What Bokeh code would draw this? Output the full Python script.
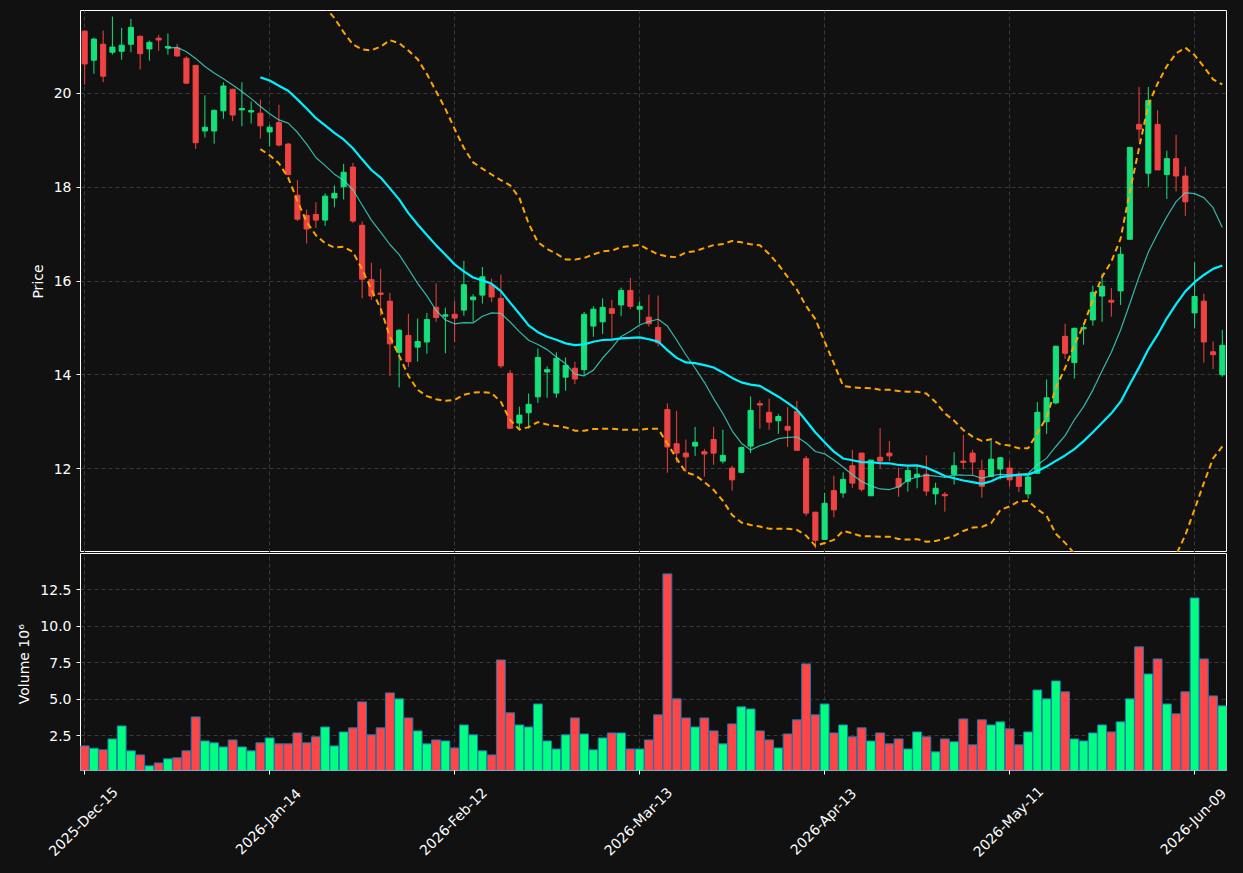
import math
import pandas as pd
from bokeh.plotting import figure
from bokeh.layouts import column
from bokeh.models import ColumnDataSource, FixedTicker, NumeralTickFormatter, Range1d
from bokeh.core.properties import value
from bokeh.embed import file_html
from bokeh.resources import INLINE

# ---------------- data ----------------
tick_idx = [0, 20, 40, 60, 80, 100, 120]
tick_labels = ["2025-Dec-15", "2026-Jan-14", "2026-Feb-12", "2026-Mar-13",
               "2026-Apr-13", "2026-May-11", "2026-Jun-09"]

opens = [21.33, 20.71, 21.05, 20.88, 20.90, 21.05, 21.22, 20.95, 21.18, 20.97,
         20.97, 20.75, 20.60, 19.20, 19.20, 19.63, 20.09, 19.65, 19.61, 19.58,
         19.18, 19.38, 18.92, 17.83, 17.40, 17.42, 17.30, 17.77, 18.01, 18.43,
         17.19, 16.03, 15.74, 15.57, 14.48, 14.84, 14.59, 14.70, 15.44, 15.26,
         15.29, 15.38, 15.60, 15.70, 15.92, 15.63, 14.03, 12.97, 13.19, 13.53,
         14.06, 13.61, 13.95, 14.14, 14.11, 15.04, 15.13, 15.41, 15.49, 15.80,
         15.40, 15.23, 15.01, 13.26, 12.53, 12.33, 12.48, 12.36, 12.62, 12.16,
         12.01, 11.92, 12.48, 13.38, 13.20, 13.02, 12.90, 13.22, 12.21, 11.07,
         10.49, 11.53, 11.48, 12.06, 12.33, 11.42, 12.24, 12.33, 11.79, 11.73,
         11.82, 11.88, 11.46, 11.45, 11.88, 12.16, 12.33, 11.96, 11.83, 11.99,
         12.01, 11.88, 11.46, 11.90, 13.00, 13.40, 14.82, 14.26, 14.98, 15.17,
         15.68, 15.59, 15.79, 16.89, 19.34, 18.30, 19.34, 18.27, 18.61, 18.24,
         15.32, 15.57, 14.49, 14.00]
highs = [21.35, 21.19, 21.34, 21.64, 21.40, 21.59, 21.24, 21.13, 21.25, 21.28,
         21.06, 20.79, 20.60, 19.96, 19.66, 20.24, 20.10, 20.24, 19.83, 19.87,
         19.33, 19.76, 18.95, 18.15, 17.52, 17.68, 17.87, 18.04, 18.50, 18.52,
         17.27, 16.39, 16.26, 15.75, 14.97, 15.30, 15.20, 15.32, 15.95, 15.43,
         15.58, 16.43, 15.72, 16.30, 16.05, 16.14, 14.10, 13.32, 13.60, 14.56,
         14.18, 14.48, 14.37, 14.28, 15.34, 15.46, 15.63, 15.60, 15.86, 16.07,
         15.57, 15.71, 15.69, 13.39, 13.23, 12.62, 12.89, 12.42, 12.89, 12.83,
         12.06, 12.47, 13.54, 13.45, 13.49, 13.16, 13.31, 13.44, 12.27, 11.07,
         11.48, 11.85, 11.92, 12.40, 12.34, 12.19, 12.86, 12.59, 12.02, 12.06,
         12.06, 12.28, 11.70, 11.50, 12.35, 12.72, 12.40, 12.19, 12.60, 12.25,
         12.16, 11.94, 11.85, 13.42, 13.90, 14.62, 15.09, 15.01, 15.11, 15.90,
         16.16, 15.85, 16.73, 18.86, 20.14, 20.14, 19.64, 18.78, 19.12, 18.44,
         16.40, 15.73, 14.71, 14.96]
lows = [20.19, 20.42, 20.24, 20.83, 20.72, 20.88, 20.51, 20.70, 20.91, 20.83,
        20.78, 20.20, 18.82, 19.06, 18.93, 19.46, 19.41, 19.30, 19.36, 19.04,
        18.87, 18.87, 18.26, 17.28, 16.80, 17.13, 17.18, 17.57, 17.74, 17.24,
        15.63, 15.60, 15.26, 13.98, 13.73, 14.17, 14.28, 14.45, 15.13, 14.46,
        14.70, 15.26, 15.13, 15.52, 15.55, 14.14, 12.85, 12.81, 12.85, 13.40,
        13.51, 13.51, 13.66, 13.80, 13.99, 14.81, 14.87, 14.77, 15.25, 15.40,
        15.09, 15.03, 14.61, 11.91, 12.13, 11.92, 12.27, 11.83, 12.08, 12.11,
        11.53, 11.90, 12.33, 12.85, 12.83, 12.74, 12.46, 12.39, 10.99, 10.30,
        10.48, 10.96, 11.38, 11.59, 11.51, 11.42, 12.00, 12.16, 11.40, 11.51,
        11.58, 11.42, 11.23, 11.08, 11.66, 11.99, 11.86, 11.38, 11.83, 11.77,
        11.62, 11.50, 11.36, 11.89, 12.74, 13.37, 14.34, 13.92, 14.64, 15.05,
        15.13, 15.24, 15.49, 16.89, 18.97, 18.01, 18.37, 17.75, 17.91, 17.39,
        14.99, 14.26, 14.12, 13.96]
closes = [20.63, 21.16, 20.37, 20.99, 21.03, 21.41, 20.85, 21.09, 21.14, 21.00,
          20.80, 20.22, 18.95, 19.28, 19.64, 20.16, 19.54, 19.68, 19.63, 19.31,
          19.28, 18.90, 18.27, 17.32, 17.11, 17.30, 17.81, 17.87, 18.32, 17.28,
          16.04, 15.68, 15.72, 14.66, 14.95, 14.28, 14.71, 15.18, 15.22, 15.27,
          15.21, 15.92, 15.66, 16.09, 15.66, 14.19, 12.86, 13.14, 13.37, 14.37,
          14.11, 14.35, 14.20, 13.91, 15.29, 15.40, 15.44, 15.31, 15.80, 15.46,
          15.46, 15.09, 14.68, 12.46, 12.33, 12.25, 12.56, 12.31, 12.33, 12.28,
          11.76, 12.45, 13.24, 13.36, 12.99, 13.11, 12.82, 12.39, 11.05, 10.47,
          11.26, 11.12, 11.77, 11.69, 11.56, 12.18, 12.16, 12.27, 11.61, 11.96,
          11.88, 11.52, 11.58, 11.42, 12.06, 12.13, 12.14, 11.62, 12.20, 12.23,
          11.76, 11.62, 11.82, 13.20, 13.51, 14.61, 14.46, 14.99, 15.01, 15.76,
          15.89, 15.55, 16.57, 18.85, 19.24, 19.85, 18.37, 18.61, 18.24, 17.69,
          15.67, 14.70, 14.43, 14.63]
volumes = [1.79, 1.63, 1.52, 2.27, 3.16, 1.45, 1.17, 0.42, 0.62, 0.90,
           0.97, 1.45, 3.78, 2.13, 2.00, 1.72, 2.20, 1.72, 1.45, 2.00,
           2.34, 1.93, 1.93, 2.68, 2.00, 2.41, 3.09, 1.79, 2.75, 3.03,
           4.81, 2.55, 3.03, 5.43, 5.02, 3.71, 2.82, 1.93, 2.20, 2.13,
           1.65, 3.23, 2.55, 1.45, 1.17, 7.69, 4.06, 3.23, 3.09, 4.67,
           2.13, 1.58, 2.55, 3.71, 2.61, 1.52, 2.34, 2.68, 2.68, 1.58,
           1.58, 2.20, 3.92, 13.60, 5.02, 3.71, 3.09, 3.71, 2.82, 1.93,
           3.30, 4.47, 4.33, 2.82, 2.20, 1.65, 2.61, 3.58, 7.42, 3.92,
           4.67, 2.68, 3.23, 2.41, 3.03, 2.13, 2.68, 1.93, 2.27, 1.58,
           2.75, 2.41, 1.38, 2.27, 2.07, 3.64, 1.86, 3.58, 3.23, 3.44,
           2.96, 1.86, 2.75, 5.63, 5.02, 6.25, 5.50, 2.27, 2.13, 2.68,
           3.23, 2.75, 3.44, 5.02, 8.59, 6.73, 7.76, 4.67, 3.99, 5.50,
           11.95, 7.76, 5.22, 4.54]

# ---------------- derived (indicators from the closes) ----------------
n = len(closes)
xs = list(range(n))
cs = pd.Series(closes)
sma10 = cs.rolling(10).mean()
sma20 = cs.rolling(20).mean()
sd20 = cs.rolling(20).std()
bb_up = sma20 + 2 * sd20
bb_lo = sma20 - 2 * sd20

UP_C, DN_C = "#16e07c", "#ef4343"
VUP_C, VDN_C = "#00ff80", "#ff4646"
BG = "#111111"
GRID = "#3a3a3a"
FONT = "DejaVu Sans"

W = 1243
LEFT, RIGHT = 80, 17
X0, X1 = -0.45, 123.45

is_up = [c >= o for o, c in zip(opens, closes)]
body_top, body_bot = [], []
for o, c in zip(opens, closes):
    t, b = max(o, c), min(o, c)
    if t - b < 0.03:
        m = (t + b) / 2
        t, b = m + 0.015, m - 0.015
    body_top.append(t)
    body_bot.append(b)

src = ColumnDataSource(dict(
    x=xs, high=highs, low=lows, top=body_top, bot=body_bot,
    color=[UP_C if u else DN_C for u in is_up],
    vol=volumes, vcolor=[VUP_C if u else VDN_C for u in is_up],
))
ind = ColumnDataSource(dict(x=xs, sma10=sma10, sma20=sma20, up=bb_up, lo=bb_lo))

x_range = Range1d(X0, X1)


def style(p):
    p.background_fill_color = BG
    p.border_fill_color = BG
    p.outline_line_color = "white"
    p.outline_line_width = 1
    p.grid.grid_line_color = GRID
    p.grid.grid_line_dash = "4 3"
    p.grid.grid_line_width = 1
    for ax in p.axis:
        ax.axis_line_color = None
        ax.major_tick_line_color = "white"
        ax.major_tick_out = 4
        ax.major_tick_in = 0
        ax.minor_tick_line_color = None
        ax.major_label_text_color = "white"
        ax.major_label_text_font = FONT
        ax.major_label_text_font_size = "14px"
        ax.axis_label_text_color = "white"
        ax.axis_label_text_font = FONT
        ax.axis_label_text_font_size = "14px"
        ax.axis_label_text_font_style = "normal"


# ---------------- price panel ----------------
p1 = figure(width=W, height=552, x_range=x_range, y_range=Range1d(10.21, 21.77),
            output_backend="svg", toolbar_location=None, x_axis_location=None,
            min_border_left=LEFT, min_border_right=RIGHT, min_border_top=10, min_border_bottom=0)
p1.segment(x0="x", y0="low", x1="x", y1="high", color="color", line_width=1, source=src)
p1.vbar(x="x", top="top", bottom="bot", width=0.55, fill_color="color",
        line_color="color", line_width=1, source=src)
p1.line("x", "up", source=ind, line_color="orange", line_width=2, line_dash="6 4")
p1.line("x", "lo", source=ind, line_color="orange", line_width=2, line_dash="6 4")
p1.line("x", "sma10", source=ind, line_color="#40e0d0", line_alpha=0.8, line_width=1.2)
p1.line("x", "sma20", source=ind, line_color="#00f0ff", line_width=2.2)
p1.yaxis.ticker = FixedTicker(ticks=[12, 14, 16, 18, 20])
p1.xgrid.ticker = FixedTicker(ticks=tick_idx)
p1.yaxis.axis_label = "Price"
style(p1)

# ---------------- volume panel ----------------
p2 = figure(width=W, height=1 + 217 + 6, x_range=x_range, y_range=Range1d(0.1, 15.0),
            output_backend="svg", toolbar_location=None,
            min_border_left=LEFT, min_border_right=RIGHT, min_border_top=1, min_border_bottom=6)
p2.vbar(x="x", top="vol", bottom=0, width=0.96, fill_color="vcolor",
        line_color="#1f77b4", line_width=1, source=src)
p2.xaxis.ticker = FixedTicker(ticks=tick_idx)
p2.yaxis.ticker = FixedTicker(ticks=[2.5, 5.0, 7.5, 10.0, 12.5])
p2.yaxis.formatter = NumeralTickFormatter(format="0.0")
p2.yaxis.axis_label = "Volume  10\u2076"
style(p2)
p2.xaxis.major_label_text_font_size = "0px"
p2.xaxis.major_label_standoff = 0
p2.xaxis.major_label_overrides = {t: "" for t in tick_idx}

# ---------------- date-label strip (labels centred on ticks, rotated 45 deg) ----------------
strip_h = 873 - 552 - (1 + 217 + 6)
scale = (X1 - X0) / (W - LEFT - RIGHT)
p3 = figure(width=W, height=strip_h,
            x_range=Range1d(X0 - LEFT * scale, X1 + RIGHT * scale),
            y_range=Range1d(0, strip_h),
            output_backend="svg", toolbar_location=None,
            x_axis_location=None, y_axis_location=None, frame_align=False,
            min_border_left=0, min_border_right=0, min_border_top=0, min_border_bottom=0)
p3.background_fill_color = BG
p3.border_fill_color = BG
p3.outline_line_color = None
p3.grid.visible = False
lab_src = ColumnDataSource(dict(x=[t - 0.15 for t in tick_idx],
                                y=[strip_h - 45] * len(tick_idx),
                                text=tick_labels))
p3.text(x="x", y="y", text="text", source=lab_src, angle=math.pi / 4,
        text_align="center", text_baseline="middle", text_color="white",
        text_font=value(FONT), text_font_size="14px")

layout = column(p1, p2, p3, spacing=0, styles={"background-color": BG})
open("out.html", "w").write(file_html(layout, INLINE))
